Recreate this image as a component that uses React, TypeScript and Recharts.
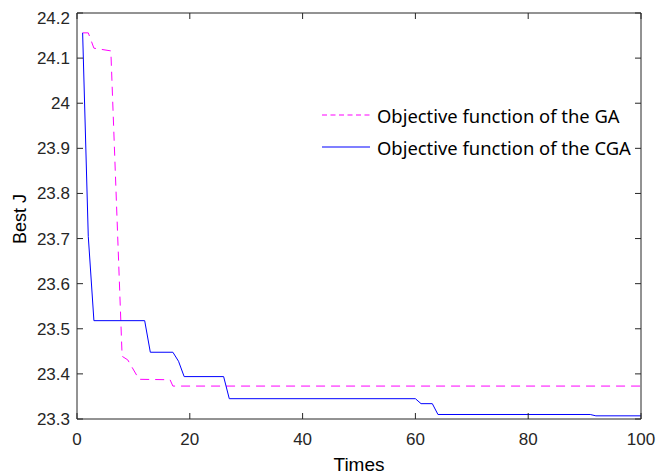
import React from 'react';
import { LineChart, Line, XAxis, YAxis } from 'recharts';

// breakpoints (Times -> Best J)
const gaTimes = [1, 2, 3, 6, 8, 9, 11, 16.5, 17, 100];
const gaBestJ = [24.156, 24.156, 24.122, 24.116, 23.439, 23.431, 23.388, 23.387, 23.373, 23.373];

const cgaTimes = [1, 2, 3, 12, 13, 17, 18, 19, 26, 27, 60, 61, 63, 64, 91, 92, 100];
const cgaBestJ = [
  24.156, 23.705, 23.518, 23.518, 23.448, 23.448, 23.428, 23.394, 23.394, 23.345, 23.345,
  23.334, 23.334, 23.31, 23.31, 23.307, 23.307,
];

const xTicks = [0, 20, 40, 60, 80, 100];
const yTicks = [23.3, 23.4, 23.5, 23.6, 23.7, 23.8, 23.9, 24, 24.1, 24.2];

const toPoints = (times: number[], values: number[]) =>
  times.map((t, i) => ({ times: t, bestJ: values[i] }));

const series = [
  {
    name: 'Objective function of the GA',
    color: '#ff00ff',
    dash: '9 6',
    data: toPoints(gaTimes, gaBestJ),
  },
  {
    name: 'Objective function of the CGA',
    color: '#0000ff',
    dash: undefined,
    data: toPoints(cgaTimes, cgaBestJ),
  },
];

const axisColor = '#262626';
const arial = '"Liberation Sans", Arial, sans-serif';
const tickFont = { fill: axisColor, fontSize: 17, fontFamily: arial };
const formatTick = (v: number) => String(Number(v.toFixed(1)));
const noLabel = () => '';

const renderYLabel = (props: any) => {
  const { viewBox } = props;
  const cx = viewBox.x + 3;
  const cy = viewBox.y + viewBox.height / 2 + 3;
  return (
    <text
      x={cx}
      y={cy}
      transform={`rotate(-90, ${cx}, ${cy})`}
      textAnchor="middle"
      dominantBaseline="central"
      fontSize={18}
      fontFamily={arial}
      fill="#000"
    >
      Best J
    </text>
  );
};

const App: React.FC = () => {
  return (
    <div style={{ position: 'relative', width: 659, height: 467 }}>
      <LineChart width={659} height={467} margin={{ top: 0, right: 0, bottom: 0, left: 9 }}>
        <XAxis
          xAxisId="bottom"
          type="number"
          dataKey="times"
          domain={[0, 100]}
          ticks={xTicks}
          allowDataOverflow
          height={56}
          tickSize={-6}
          tickMargin={20}
          tick={tickFont}
          stroke={axisColor}
          label={{
            value: 'Times',
            position: 'insideBottom',
            offset: 4,
            fill: '#000',
            fontSize: 19,
            fontFamily: arial,
          }}
        />
        <XAxis
          xAxisId="top"
          orientation="top"
          type="number"
          dataKey="times"
          domain={[0, 100]}
          ticks={xTicks}
          allowDataOverflow
          height={5}
          tickSize={-6}
          tickFormatter={noLabel}
          stroke={axisColor}
        />
        <YAxis
          yAxisId="left"
          type="number"
          domain={[23.3, 24.2]}
          ticks={yTicks}
          allowDataOverflow
          width={60}
          tickSize={-6}
          tickMargin={13}
          tick={tickFont}
          tickFormatter={formatTick}
          stroke={axisColor}
          label={renderYLabel}
        />
        <YAxis
          yAxisId="right"
          orientation="right"
          type="number"
          domain={[23.3, 24.2]}
          ticks={yTicks}
          allowDataOverflow
          width={26}
          tickSize={-6}
          tickFormatter={noLabel}
          stroke={axisColor}
        />
        {series.map(s => (
          <Line
            key={s.name}
            xAxisId="bottom"
            yAxisId="left"
            data={s.data}
            dataKey="bestJ"
            name={s.name}
            type="linear"
            stroke={s.color}
            strokeWidth={1}
            strokeDasharray={s.dash}
            dot={false}
            activeDot={false}
            isAnimationActive={false}
          />
        ))}
      </LineChart>
      <div
        style={{
          position: 'absolute',
          left: 314,
          top: 91,
          fontFamily: '"Noto Sans", sans-serif',
          fontSize: 18.4,
          color: '#000',
        }}
      >
        {series.map(s => (
          <div key={s.name} style={{ display: 'flex', alignItems: 'center', height: 32 }}>
            <svg width={48} height={32} style={{ display: 'block' }}>
              <line
                x1={0}
                y1={16}
                x2={48}
                y2={16}
                stroke={s.color}
                strokeWidth={1.2}
                strokeDasharray={s.dash ? '5 3.5' : undefined}
              />
            </svg>
            <span style={{ marginLeft: 7, whiteSpace: 'nowrap' }}>{s.name}</span>
          </div>
        ))}
      </div>
    </div>
  );
};

export default App;
